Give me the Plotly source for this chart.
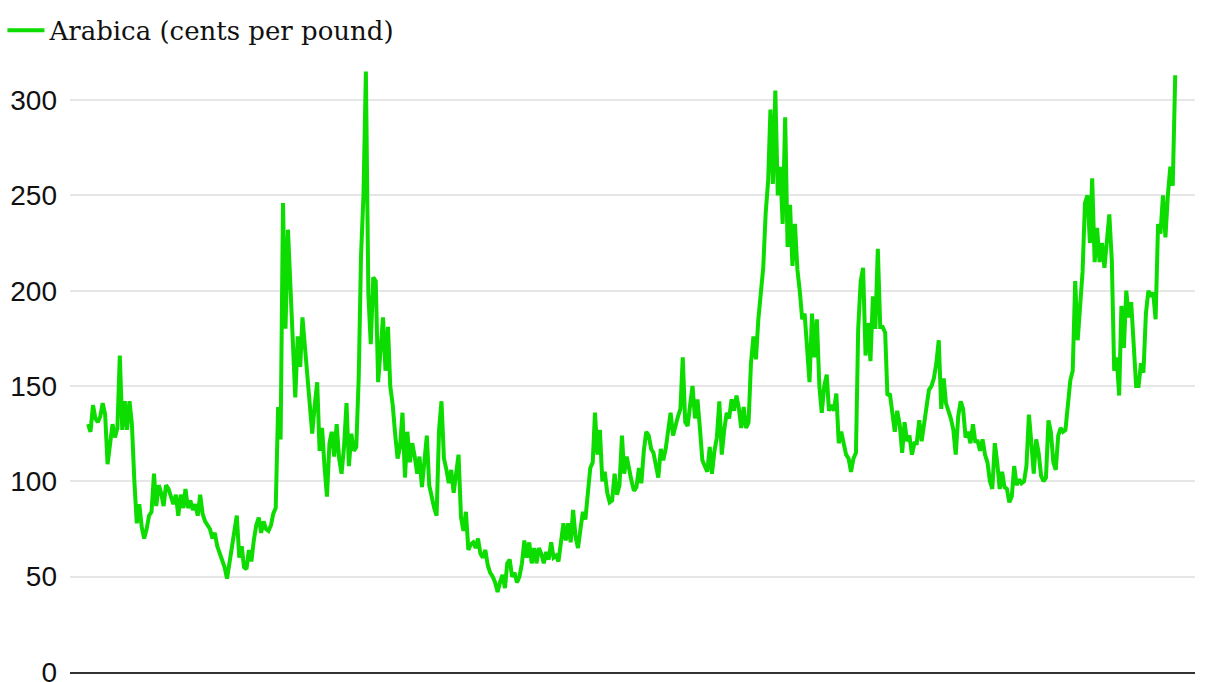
import pandas as pd
import plotly.graph_objects as go

# ---- data (monthly, cents per pound) ----
start_month = "1987-11-01"
series_name = "Arabica (cents per pound)"

prices_1987_1995 = [
    130, 126,
    140, 133, 131, 134, 141, 135, 109, 122, 130, 123, 128, 166,   # 1988
    127, 142, 127, 142, 130, 100, 78, 88, 76, 70, 75, 82,         # 1989
    84, 104, 87, 98, 94, 87, 98, 96, 91, 88, 93, 82,              # 1990
    93, 86, 96, 86, 90, 85, 88, 82, 93, 83, 79, 77,               # 1991
    75, 70, 73, 66, 62, 59, 55, 49, 57, 65, 75, 82,               # 1992
    60, 66, 55, 54, 64, 58, 69, 77, 81, 73, 79, 75,               # 1993
    74, 77, 83, 86, 139, 122, 246, 180, 232, 199, 165, 144,       # 1994
    176, 160, 186, 170, 158, 140, 125, 140, 152, 116, 128, 108,   # 1995
]
prices_1996_2005 = [
    92, 120, 126, 113, 130, 112, 104, 118, 141, 108, 125, 116,    # 1996
    118, 155, 218, 250, 315, 198, 172, 207, 205, 152, 170, 186,   # 1997
    158, 181, 150, 140, 125, 112, 118, 136, 102, 126, 110, 120,   # 1998
    113, 104, 113, 97, 110, 124, 98, 91, 86, 82, 127, 142,        # 1999
    112, 106, 99, 106, 94, 104, 114, 81, 74, 84, 64, 67,          # 2000
    68, 65, 70, 62, 60, 64, 56, 52, 50, 47, 42, 47,               # 2001
    51, 44, 57, 59, 50, 52, 47, 50, 57, 69, 60, 68,               # 2002
    57, 65, 57, 65, 62, 57, 63, 59, 68, 60, 61, 58,               # 2003
    69, 78, 69, 78, 68, 85, 71, 65, 75, 84, 80, 95,               # 2004
    107, 110, 136, 114, 127, 100, 105, 94, 89, 90, 104, 93,       # 2005
]
prices_2006_2015 = [
    98, 124, 104, 113, 106, 100, 95, 97, 107, 99, 116, 126,       # 2006
    124, 117, 115, 109, 102, 117, 111, 117, 128, 136, 124, 130,   # 2007
    134, 138, 165, 131, 129, 140, 150, 133, 143, 128, 111, 108,   # 2008
    105, 118, 104, 116, 123, 142, 114, 127, 136, 133, 143, 137,   # 2009
    145, 138, 128, 139, 128, 131, 162, 176, 164, 185, 200, 212,   # 2010
    241, 258, 295, 256, 305, 250, 265, 235, 291, 223, 245, 213,   # 2011
    235, 211, 200, 185, 188, 172, 152, 188, 165, 185, 150, 136,   # 2012
    150, 156, 137, 140, 137, 146, 120, 126, 119, 114, 112, 105,   # 2013
    112, 115, 180, 205, 212, 166, 183, 163, 197, 180, 222, 181,   # 2014
    181, 178, 145, 146, 136, 126, 137, 130, 115, 131, 121, 124,   # 2015
]
prices_2016_2025 = [
    114, 120, 120, 132, 121, 130, 140, 148, 150, 154, 162, 174,   # 2016
    138, 154, 141, 137, 133, 127, 114, 134, 142, 138, 123, 126,   # 2017
    120, 130, 121, 121, 116, 122, 114, 110, 100, 96, 120, 110,    # 2018
    96, 105, 97, 96, 89, 92, 108, 98, 101, 99, 100, 108,          # 2019
    135, 120, 104, 122, 115, 103, 100, 102, 132, 126, 110, 106,   # 2020
    124, 128, 126, 127, 138, 153, 158, 205, 174, 190, 210, 246,   # 2021
    250, 225, 259, 215, 233, 215, 225, 212, 225, 240, 216, 158,   # 2022
    165, 145, 192, 170, 200, 186, 194, 167, 150, 150, 162, 157,   # 2023
    188, 200, 197, 199, 185, 235, 230, 250, 228, 250, 265, 255,   # 2024
    313,                                                          # 2025
]
y_ticks = [0, 50, 100, 150, 200, 250, 300]
y_range = [0, 321]
x_range = ["1987-03-20", "2025-09-05"]

values = prices_1987_1995 + prices_1996_2005 + prices_2006_2015 + prices_2016_2025
dates = pd.date_range(start_month, periods=len(values), freq="MS")

fig = go.Figure()
fig.add_trace(go.Scatter(
    x=dates, y=values, mode="lines", name=series_name,
    line=dict(color="#0cdc00", width=4),
))

fig.update_layout(
    width=1220, height=682,
    margin=dict(l=70, r=25, t=60, b=10, autoexpand=False),
    paper_bgcolor="white", plot_bgcolor="white",
    showlegend=True,
    legend=dict(
        orientation="h", x=0.002, xref="container", xanchor="left",
        y=0.99, yref="container", yanchor="top",
        itemwidth=37,
        font=dict(family="DejaVu Serif", size=26, color="#111111"),
        bgcolor="rgba(0,0,0,0)",
    ),
    xaxis=dict(
        range=x_range, showticklabels=False, showgrid=False, zeroline=False,
        showline=True, linecolor="#333333", linewidth=1.5, ticks="",
        automargin=False,
    ),
    yaxis=dict(
        range=y_range, tickvals=y_ticks, showgrid=True, gridcolor="#e6e6e6",
        gridwidth=1.5, zeroline=False, showline=False, ticks="",
        ticklabelstandoff=12, ticklabeloverflow="allow", automargin=False,
        tickfont=dict(family="Liberation Sans", size=28, color="#111111"),
    ),
)

fig.write_html(
    "out.html",
    config={"displayModeBar": False},
    post_script="document.body.style.margin='0px';",
)
